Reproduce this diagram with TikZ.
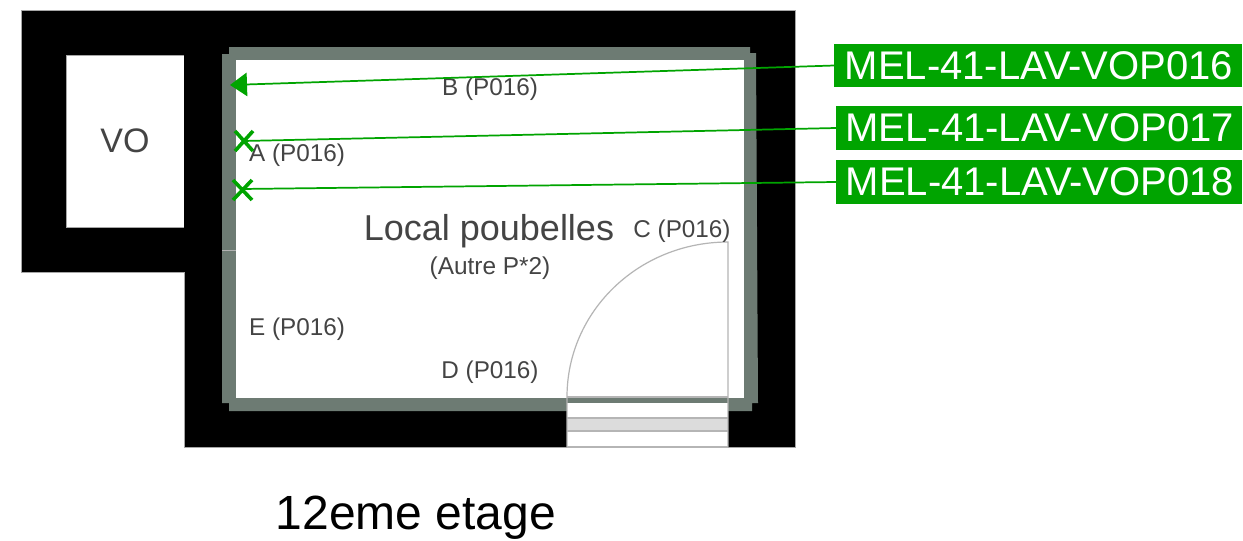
\documentclass[tikz,border=0pt]{standalone}
\usepackage{fontspec}
\setmainfont{Liberation Sans}
\usetikzlibrary{arrows.meta,calc}
\definecolor{wallgrey}{HTML}{6D7B73}
\definecolor{tagreen}{HTML}{00A400}
\definecolor{txtgrey}{HTML}{444444}
\definecolor{stepgrey}{HTML}{DCDCDC}
\definecolor{doorline}{HTML}{B5B5B5}
\tikzset{
  px/.style={x=0.75pt,y=-0.75pt},
  tag/.style={fill=tagreen,text=white,font=\fontsize{30}{32}\selectfont,inner sep=0pt,anchor=west,minimum height=32.5pt},
  lbl/.style={text=txtgrey,font=\fontsize{18.2}{20}\selectfont,inner sep=0pt},
  leader/.style={draw=tagreen,line width=1.3pt},
  cross/.style={draw=tagreen,line width=2.7pt},
}
\begin{document}
\begin{tikzpicture}[px]
\useasboundingbox (0,0) rectangle (1243,540);
\fill[black,draw=gray!70,line width=0.4pt] (21,10) -- (795,10) -- (795,447) -- (184,447) -- (184,272) -- (21,272) -- cycle;
\fill[white,draw=gray!70,line width=0.4pt] (66,55) -- (184,55) -- (184,227) -- (66,227) -- cycle;
\fill[black] (183.6,54) rectangle (222,228);
\fill[wallgrey] (229,47) -- (750,47) -- (750,53) -- (756,53) -- (758,403) -- (752,403) -- (752,411) -- (229,411) -- (229,403) -- (222,403) -- (222,54) -- (229,54) -- cycle;
\fill[white] (236,60) -- (744,60) -- (744,398) -- (236,398) -- cycle;
\draw[gray!60,line width=0.5pt] (222,250) -- (236,250);
% door
\fill[white] (567,403) rectangle (728,447);
\fill[stepgrey] (567,418) rectangle (728,431);
\draw[doorline,line width=0.9pt] (567,397) -- (728,397);
\draw[doorline,line width=0.9pt] (567,418) -- (728,418);
\draw[doorline,line width=0.9pt] (567,431) -- (728,431);
\draw[doorline,line width=0.9pt] (567,447) -- (728,447);
\draw[doorline,line width=0.9pt] (728,447) -- (728,242) .. controls (639,242) and (567,311) .. (567,397) -- (567,447);
% texts
\node[lbl,font=\fontsize{25.5}{28}\selectfont] (vo) at (125,141) {VO};
\node[lbl] (b) at (490,89) {B (P016)};
\node[lbl] (a) at (297,155) {A (P016)};
\node[lbl] (c) at (682,231) {C (P016)};
\node[lbl] (e) at (297,329) {E (P016)};
\node[lbl] (d) at (490,372) {D (P016)};
\node[lbl,font=\fontsize{27}{30}\selectfont] (room) at (489,231) {Local poubelles};
\node[lbl,font=\fontsize{18.3}{20}\selectfont] (autre) at (490,268) {(Autre P*2)};
\node[text=black,font=\fontsize{36}{40}\selectfont,inner sep=0pt] (floor) at (416,518) {12eme etage};
% tags
\node[tag,minimum width=306pt] (t1) at (834,65.5) {\hspace{1pt}\raisebox{0.6pt}{MEL-41-LAV-VOP016}};
\node[tag,minimum width=304.5pt] (t2) at (836,128) {\hspace{0.8pt}\raisebox{0.6pt}{MEL-41-LAV-VOP017}};
\node[tag,minimum width=304.5pt] (t3) at (836,182) {\hspace{1pt}\raisebox{0.6pt}{MEL-41-LAV-VOP018}};
% leaders
\coordinate (p1) at (230,85);
\coordinate (p2) at (243,141);
\coordinate (p3) at (241,189);
\draw[leader,-{Triangle[length=12.75pt,width=17.5pt]}] (t1.west) -- (p1);
\draw[leader] (t2.west) -- (p2);
\draw[leader] (t3.west) -- (p3);
\draw[cross] (235,131) -- (253,151) (235,151) -- (253,131);
\draw[cross] (233,180) -- (252,200) (233,200) -- (252,180);
\end{tikzpicture}
\end{document}
